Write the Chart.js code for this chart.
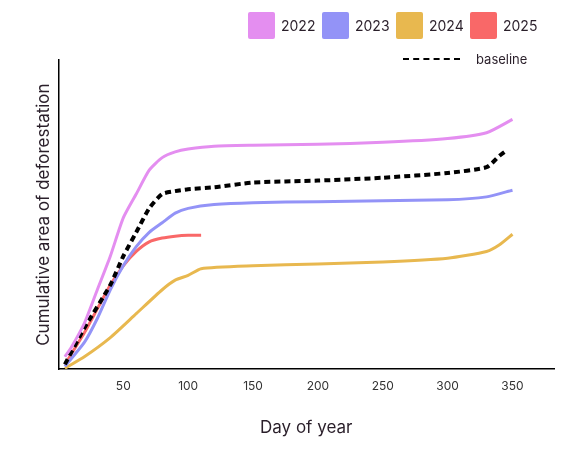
<!DOCTYPE html>
<html><head>
<script src="https://cdn.jsdelivr.net/npm/chart.js@4"></script>
<style>
body{margin:0;font-family:Inter,sans-serif}
#wrap{position:relative;width:576px;height:450px}
.lg{position:absolute;display:flex;align-items:center;font-size:14px;color:#2a1f2a}
.bx{width:27px;height:27px;border-radius:2px;margin-right:6px}
</style>
</head><body>
<div id="wrap">
<canvas id="myChart" width="576" height="450"></canvas>
<div class="lg" style="left:248px;top:12px"><div class="bx" style="background:#e48ef0"></div>2022</div>
<div class="lg" style="left:322px;top:12px"><div class="bx" style="background:#9393f7"></div>2023</div>
<div class="lg" style="left:396px;top:12px"><div class="bx" style="background:#e8b84f"></div>2024</div>
<div class="lg" style="left:470px;top:12px"><div class="bx" style="background:#f96868"></div>2025</div>
<div class="lg" style="left:403px;top:51px;font-size:13px"><div style="width:57px;border-top:2px dashed #000;margin-right:16px"></div>baseline</div>
</div>
<script>
let days2022 = [5, 10, 20, 30, 40, 50, 60, 70, 80, 90, 100, 120, 150, 200, 250, 300, 330, 350]
let area2022 = [13, 23, 48, 83, 118, 158, 183, 208, 221, 227, 230, 233, 234, 235, 237, 241, 247, 261]

let daysBase = [5, 20, 40, 50, 60, 70, 80, 90, 100, 120, 150, 200, 250, 300, 330, 340, 345]
let areaBase = [5, 43, 88, 118, 143, 168, 183, 186, 188, 190, 195, 197, 200, 205, 211, 223, 228]

let days2023 = [5, 20, 30, 40, 50, 60, 70, 80, 90, 100, 120, 150, 200, 300, 330, 350]
let area2023 = [3, 28, 53, 83, 108, 128, 143, 153, 163, 168, 172, 174, 175, 177, 180, 187]

let days2024 = [5, 20, 40, 60, 80, 90, 100, 110, 150, 200, 250, 300, 330, 340, 350]
let area2024 = [1, 13, 33, 58, 83, 93, 98, 105, 108, 110, 112, 116, 123, 130, 141]

let days2025 = [5, 20, 30, 40, 50, 60, 70, 80, 90, 100, 110]
let area2025 = [5, 38, 63, 88, 108, 123, 133, 137, 139, 140, 140]

let xTicks = [50, 100, 150, 200, 250, 300, 350]

Chart.defaults.font.family = 'Inter, sans-serif'

const pts = (d, v) => d.map((x, i) => ({x, y: v[i]}))
const line = (label, d, v, color, extra) => Object.assign({
    label, data: pts(d, v), borderColor: color, borderWidth: 3,
    pointRadius: 0, fill: false, tension: 0.2
}, extra || {})

let ctx = document.getElementById('myChart')
new Chart(ctx, {
    type: 'line',
    data: {
        datasets: [
            line('2022', days2022, area2022, '#e48ef0'),
            line('baseline', daysBase, areaBase, '#000', {borderDash: [6, 4], borderWidth: 4}),
            line('2023', days2023, area2023, '#9393f7'),
            line('2024', days2024, area2024, '#e8b84f'),
            line('2025', days2025, area2025, '#f96868')
        ]
    },
    options: {
        responsive: false,
        animation: false,
        layout: {padding: {top: 60, right: 22, left: 30, bottom: 8}},
        plugins: {legend: {display: false}, tooltip: {enabled: false}},
        scales: {
            x: {
                type: 'linear', min: 0, max: 382,
                afterBuildTicks: s => { s.ticks = xTicks.map(value => ({value})) },
                grid: {display: false, drawTicks: false},
                border: {color: '#000', width: 1.5},
                ticks: {color: '#333', font: {size: 12}, padding: 10},
                title: {display: true, text: 'Day of year', color: '#2a1f2a', font: {size: 17}, padding: {top: 14}}
            },
            y: {
                min: 0, max: 323,
                grid: {display: false, drawTicks: false},
                border: {color: '#000', width: 1.5},
                ticks: {display: false},
                title: {display: true, text: 'Cumulative area of deforestation', color: '#2a1f2a', font: {size: 17}}
            }
        }
    }
})
</script>
</body></html>
